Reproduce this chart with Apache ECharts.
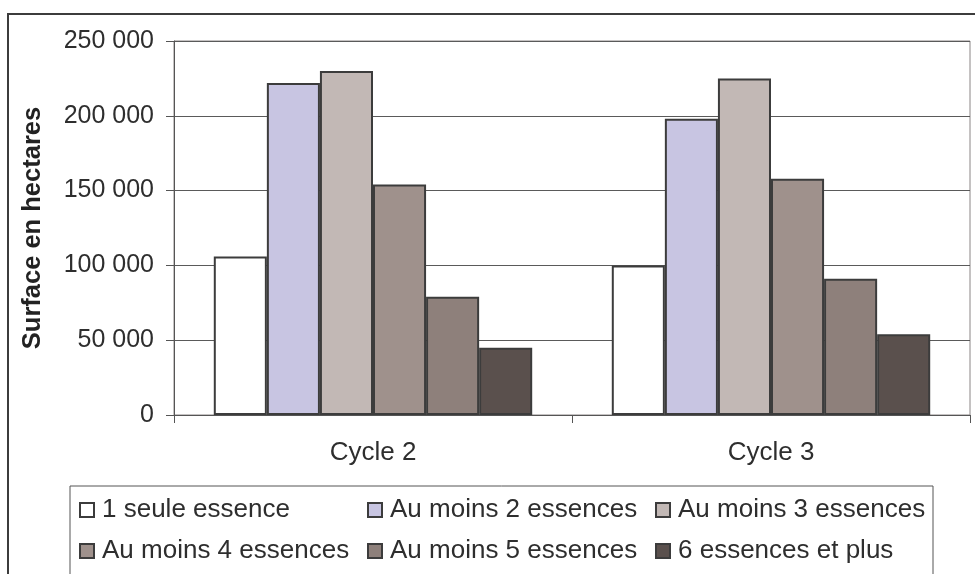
<!DOCTYPE html>
<html>
<head>
<meta charset="utf-8">
<title>Surface en hectares</title>
<script src="https://cdn.jsdelivr.net/npm/echarts@6/dist/echarts.min.js"></script>
<style>
  html, body { margin: 0; padding: 0; background: #fff; }
  #chart { width: 975px; height: 574px; }
</style>
</head>
<body>
<div id="chart"></div>
<script>
// categories
const cycles = ['Cycle 2', 'Cycle 3'];

// series names
const seriesNames = [
  '1 seule essence',
  'Au moins 2 essences',
  'Au moins 3 essences',
  'Au moins 4 essences',
  'Au moins 5 essences',
  '6 essences et plus'
];

// values (hectares), one array per series
const seuleEssence = [106000, 100000];
const moins2 = [222000, 198000];
const moins3 = [230000, 225000];
const moins4 = [154000, 158000];
const moins5 = [79000, 91000];
const plus6 = [45000, 54000];

// y axis ticks
const yTicks = [0, 50000, 100000, 150000, 200000, 250000];

const seriesData = [seuleEssence, moins2, moins3, moins4, moins5, plus6];
const colors = ['#ffffff', '#c8c5e2', '#c2b8b5', '#9f918c', '#8e807b', '#5a504d'];

const font = "'Liberation Sans', Arial, sans-serif";

// 250000 -> "250 000"
const fmt = v => String(v).replace(/\B(?=(\d{3})+(?!\d))/g, ' ');

const chart = echarts.init(document.getElementById('chart'));

chart.setOption({
  animation: false,
  backgroundColor: '#fff',
  textStyle: { fontFamily: font },
  graphic: [
    {
      // outer frame of the chart area
      type: 'rect',
      shape: { x: 8, y: 14, width: 1000, height: 600 },
      style: { fill: 'none', stroke: '#3c3c3c', lineWidth: 2 },
      z: 100
    }
  ],
  grid: {
    left: 174,
    right: 5,
    top: 41,
    bottom: 159,
    show: true,
    borderColor: '#8a8585',
    borderWidth: 1,
    backgroundColor: '#fff'
  },
  legend: {
    data: seriesNames,
    left: 70,
    top: 486,
    width: 900,
    orient: 'horizontal',
    padding: [11, 5, 16, 9],
    itemGap: 15,
    itemWidth: 14,
    itemHeight: 14,
    icon: 'rect',
    borderColor: '#555',
    borderWidth: 1,
    textStyle: {
      fontFamily: font,
      fontSize: 26,
      color: '#2e2e2e',
      width: 250,
      lineHeight: 22,
      padding: [0, 0, 0, 3]
    }
  },
  xAxis: {
    type: 'category',
    data: cycles,
    boundaryGap: true,
    axisLine: { lineStyle: { color: '#555', width: 1 } },
    axisTick: { show: true, length: 8, lineStyle: { color: '#555' } },
    axisLabel: { fontFamily: font, fontSize: 26, color: '#2e2e2e', margin: 25 }
  },
  yAxis: {
    type: 'value',
    min: yTicks[0],
    max: yTicks[yTicks.length - 1],
    interval: yTicks[1] - yTicks[0],
    name: 'Surface en hectares',
    nameLocation: 'middle',
    nameGap: 128,
    nameTextStyle: { fontFamily: font, fontSize: 25.5, fontWeight: 'bold', color: '#222' },
    axisLine: { show: true, lineStyle: { color: '#555', width: 1 } },
    axisTick: { show: true, length: 8, lineStyle: { color: '#555' } },
    axisLabel: { fontFamily: font, fontSize: 25, color: '#2e2e2e', margin: 20, formatter: fmt },
    splitLine: { show: true, lineStyle: { color: '#5a5a5a', width: 1 } }
  },
  series: seriesNames.map((name, i) => ({
    name: name,
    type: 'bar',
    data: seriesData[i],
    barGap: '0%',
    barCategoryGap: '20%',
    itemStyle: {
      color: colors[i],
      borderColor: '#3c3c3c',
      borderWidth: 2
    }
  }))
});
</script>
</body>
</html>
